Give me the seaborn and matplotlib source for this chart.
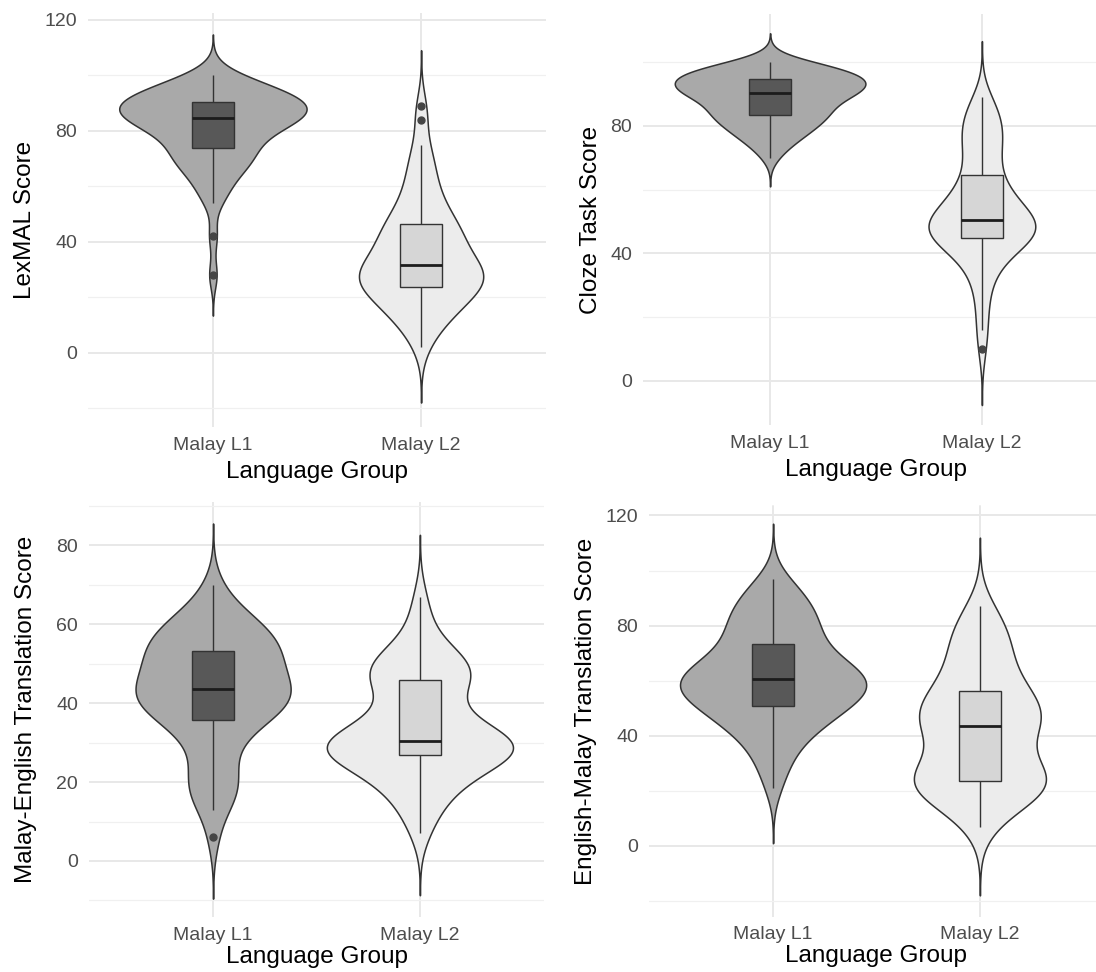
import numpy as np
import pandas as pd
import matplotlib
matplotlib.use("Agg")
import matplotlib.pyplot as plt
import seaborn as sns

# ---- data: scores per language group -------------------------------------
groups = ["Malay L1", "Malay L2"]

lexmal_l1 = [28, 42, 54, 57, 60, 62, 64, 66, 67, 68, 69, 70, 71, 72, 73,
             74, 75, 76, 77, 78, 79, 80, 80, 81, 82, 82, 83, 83, 84, 84,
             85, 85, 86, 86, 86, 87, 87, 87, 88, 88, 89, 89, 90, 90, 90,
             91, 91, 92, 92, 93, 93, 94, 94, 95, 95, 96, 97, 98, 99, 100]
lexmal_l2 = [2, 6, 9, 11, 13, 14, 15, 16, 17, 18, 19, 20, 21, 22, 23,
             24, 24, 25, 25, 26, 26, 27, 27, 28, 28, 29, 29, 30, 31, 31,
             32, 33, 34, 35, 36, 37, 38, 39, 40, 41, 42, 43, 44, 45, 46,
             47, 48, 49, 51, 53, 55, 57, 59, 62, 65, 68, 71, 75, 84, 89]

cloze_l1 = [70, 73, 74, 75.5, 76.5, 77.5, 78, 79, 79.5, 80, 81, 81.5, 82, 82.5, 83,
            83.5, 84, 84.5, 85, 85.5, 86, 86.5, 87, 87.5, 88, 88.5, 89, 89.5, 90, 90,
            90.5, 90.5, 91, 91, 91.5, 92, 92, 92.5, 93, 93, 93.5, 94, 94, 94.5, 94.5,
            95, 95, 95.5, 96, 96, 96.5, 97, 97, 97.5, 98, 98.5, 99, 99, 100, 100]
cloze_l2 = [10, 16, 21, 26, 30, 33, 35, 37, 39, 40, 41, 42, 43, 43, 44,
            45, 45, 46, 46, 47, 47, 47, 48, 48, 48, 49, 49, 49, 50, 50,
            51, 52, 52, 53, 54, 55, 55, 56, 57, 58, 59, 60, 61, 63, 64,
            66, 68, 70, 72, 73, 75, 76, 78, 79, 80, 82, 83, 85, 87, 89]

malay_english_l1 = [6, 13, 15, 17, 18, 20, 21, 23, 25, 28, 30, 32, 33, 34, 35,
                    36, 37, 38, 38, 39, 39, 40, 40, 41, 41, 42, 42, 43, 43, 43,
                    44, 45, 45, 46, 47, 47, 48, 49, 50, 50, 51, 52, 52, 53, 53,
                    54, 55, 55, 56, 57, 57, 58, 59, 60, 60, 61, 62, 64, 66, 70]
malay_english_l2 = [7, 10, 13, 15, 17, 18, 19, 20, 21, 22, 23, 24, 25, 25, 26,
                    27, 27, 27, 28, 28, 28, 28, 29, 29, 29, 29, 30, 30, 30, 30,
                    31, 31, 32, 32, 33, 34, 35, 36, 37, 38, 40, 41, 43, 44, 46,
                    46, 47, 47, 48, 48, 49, 50, 50, 51, 52, 53, 55, 58, 62, 67]

english_malay_l1 = [21, 27, 31, 34, 37, 39, 41, 43, 44, 45, 46, 47, 48, 49, 50,
                    51, 52, 53, 53, 54, 55, 55, 56, 57, 57, 58, 58, 59, 59, 60,
                    61, 61, 62, 62, 63, 64, 64, 65, 66, 67, 68, 69, 70, 71, 73,
                    74, 76, 77, 78, 80, 81, 82, 84, 85, 87, 88, 90, 92, 94, 97]
english_malay_l2 = [7, 10, 13, 15, 17, 18, 19, 20, 21, 21, 22, 22, 23, 23, 23,
                    24, 24, 25, 26, 27, 28, 30, 31, 33, 35, 36, 38, 40, 42, 43,
                    44, 44, 45, 45, 46, 47, 48, 49, 50, 51, 52, 53, 54, 55, 56,
                    57, 59, 61, 63, 65, 67, 69, 71, 73, 75, 77, 79, 81, 84, 87]

y_titles = ["LexMAL Score", "Cloze Task Score",
            "Malay-English Translation Score", "English-Malay Translation Score"]

# ---- styling ---------------------------------------------------------------
sns.set_style("white")
plt.rcParams["font.family"] = ["Liberation Sans", "DejaVu Sans"]

violin_fill = {"Malay L1": "#a9a9a9", "Malay L2": "#ececec"}
box_fill = {"Malay L1": "#585858", "Malay L2": "#d6d6d6"}
outline = "#333333"
grid_major = "#e8e8e8"
grid_minor = "#f0f0f0"
tick_color = "#4d4d4d"


def nrd0_factor(kde):
    """Silverman's rule of thumb (R's bw.nrd0) expressed as a scipy factor."""
    x = np.asarray(kde.dataset).ravel()
    sd = x.std(ddof=1)
    q75, q25 = np.percentile(x, [75, 25])
    h = 0.9 * min(sd, (q75 - q25) / 1.34) * len(x) ** -0.2
    return h / sd


W, H = 1096, 972
fig = plt.figure(figsize=(W / 100, H / 100), dpi=100)


def px_rect(x0, x1, top, bottom):
    return [x0 / W, 1 - bottom / H, (x1 - x0) / W, (bottom - top) / H]


panels = [
    dict(l1=lexmal_l1, l2=lexmal_l2, title=y_titles[0],
         rect=px_rect(88, 546, 13, 427), ylim=(-26.8, 122.4),
         major=[0, 40, 80, 120], minor=[-20, 20, 60, 100], xpad=5, ypad=6),
    dict(l1=cloze_l1, l2=cloze_l2, title=y_titles[1],
         rect=px_rect(643, 1109, 14.5, 425.3), ylim=(-13.9, 114.9),
         major=[0, 40, 80], minor=[20, 60, 100], xpad=5, ypad=6),
    dict(l1=malay_english_l1, l2=malay_english_l2, title=y_titles[2],
         rect=px_rect(89, 544, 502, 917.4), ylim=(-14.3, 91.0),
         major=[0, 20, 40, 60, 80], minor=[-10, 10, 30, 50, 70, 90],
         xpad=1.5, ypad=14),
    dict(l1=english_malay_l1, l2=english_malay_l2, title=y_titles[3],
         rect=px_rect(649, 1104, 505.5, 916.5), ylim=(-25.6, 123.6),
         major=[0, 40, 80, 120], minor=[-20, 20, 60, 100], xpad=1.5, ypad=6),
]

for p in panels:
    ax = fig.add_axes(p["rect"])
    df = pd.DataFrame({
        "group": [groups[0]] * len(p["l1"]) + [groups[1]] * len(p["l2"]),
        "score": p["l1"] + p["l2"],
    })

    # one violin call without hue so both violins share the same area scaling
    sns.violinplot(data=df, x="group", y="score", color=violin_fill[groups[0]],
                   inner=None, cut=3, bw_method=nrd0_factor, gridsize=300,
                   width=0.9, density_norm="area", linewidth=1.1,
                   linecolor=outline, saturation=1, ax=ax)
    for coll, g in zip(ax.collections, groups):
        coll.set_facecolor(violin_fill[g])

    sns.boxplot(data=df, x="group", y="score", hue="group",
                palette=box_fill, width=0.2, showcaps=False,
                linewidth=1.0, linecolor=outline, fliersize=5,
                saturation=1, legend=False, ax=ax,
                medianprops=dict(color="#1c1c1c", linewidth=2.0),
                flierprops=dict(marker="o", markerfacecolor="#454545",
                                markeredgecolor="#454545"))

    ax.set_xlim(-0.6, 1.6)
    ax.set_ylim(*p["ylim"])
    ax.set_yticks(p["major"])
    ax.set_yticks(p["minor"], minor=True)
    ax.set_xticks([0, 1])
    ax.set_xticklabels(groups)

    ax.set_axisbelow(True)
    ax.grid(which="major", axis="both", color=grid_major, linewidth=1.4)
    ax.grid(which="minor", axis="y", color=grid_minor, linewidth=0.9)
    ax.grid(which="minor", axis="x", visible=False)
    for s in ax.spines.values():
        s.set_visible(False)

    ax.tick_params(axis="both", which="both", length=0, labelsize=14,
                   labelcolor=tick_color)
    ax.tick_params(axis="x", pad=7)
    ax.tick_params(axis="y", pad=8)
    ax.set_xlabel("Language Group", fontsize=17.5, color="black",
                  labelpad=p["xpad"])
    ax.set_ylabel(p["title"], fontsize=17.5, color="black",
                  labelpad=p["ypad"])

fig.savefig("out.png", dpi=100)
